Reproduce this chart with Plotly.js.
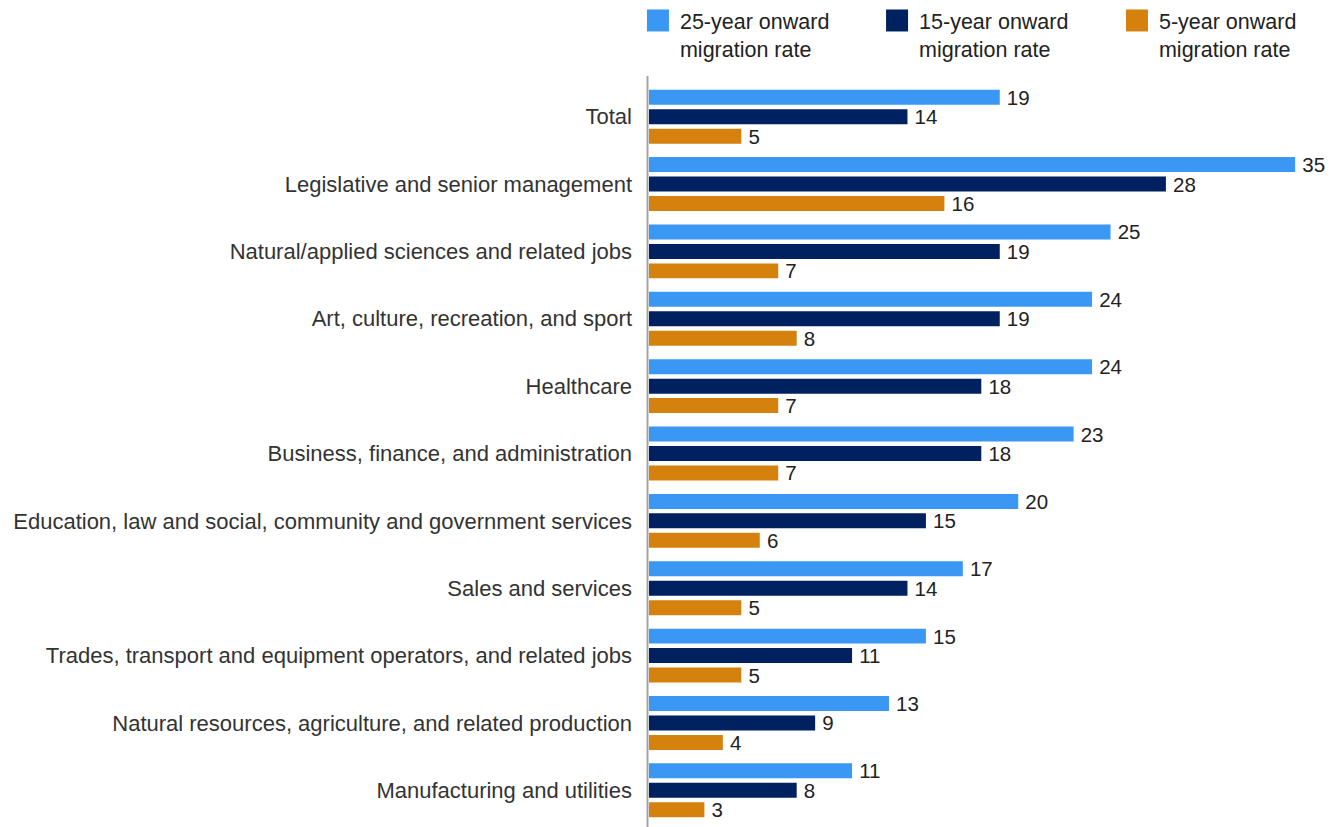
<!DOCTYPE html>
<html><head><meta charset="utf-8">
<script src="https://cdn.plot.ly/plotly-3.0.1.min.js"></script>
<style>html,body{margin:0;padding:0;background:#fff}#chart{width:1338px;height:827px}</style>
</head><body><div id="chart"></div>
<script>
const categories = [
  'Total',
  'Legislative and senior management',
  'Natural/applied sciences and related jobs',
  'Art, culture, recreation, and sport',
  'Healthcare',
  'Business, finance, and administration',
  'Education, law and social, community and government services',
  'Sales and services',
  'Trades, transport and equipment operators, and related jobs',
  'Natural resources, agriculture, and related production',
  'Manufacturing and utilities'
];
const rate25 = [19, 35, 25, 24, 24, 23, 20, 17, 15, 13, 11];
const rate15 = [14, 28, 19, 19, 18, 18, 15, 14, 11, 9, 8];
const rate5  = [5, 16, 7, 8, 7, 7, 6, 5, 5, 4, 3];
const seriesNames = ['25-year onward<br>migration rate', '15-year onward<br>migration rate', '5-year onward<br>migration rate'];
const seriesColors = ['#3a97f4', '#00215f', '#d4810d'];
const seriesValues = [rate25, rate15, rate5];
const legendIds = ['legend', 'legend2', 'legend3'];
const legendX = [0.4753, 0.654, 0.8333];

const FONT = 'Liberation Sans, Arial, sans-serif';

const traces = seriesValues.map((vals, i) => ({
  type: 'bar',
  orientation: 'h',
  name: seriesNames[i],
  legend: legendIds[i],
  showlegend: true,
  y: categories,
  x: vals,
  marker: {color: seriesColors[i]},
  texttemplate: '\u2009%{x}',
  textposition: 'outside',
  constraintext: 'none',
  cliponaxis: false,
  textfont: {family: FONT, size: 20.5, color: '#222'},
  hoverinfo: 'x+y'
}));

const layout = {
  width: 1338,
  height: 827,
  showlegend: true,
  margin: {l: 649, r: 10, t: 83, b: 3, pad: 0, autoexpand: false},
  paper_bgcolor: '#fff',
  plot_bgcolor: '#fff',
  barmode: 'group',
  bargap: 0.1333,
  bargroupgap: 0.23,
  font: {family: FONT, size: 22, color: '#333'},
  xaxis: {
    range: [0, 36.78],
    visible: false,
    showgrid: false,
    zeroline: false,
    fixedrange: true
  },
  yaxis: {
    type: 'category',
    autorange: 'reversed',
    showgrid: false,
    zeroline: false,
    showline: false,
    ticks: '',
    ticklabelstandoff: 16,
    tickfont: {family: FONT, size: 22, color: '#333'},
    fixedrange: true
  },
  shapes: [{
    type: 'line',
    xref: 'paper', yref: 'paper',
    x0: -0.0022, x1: -0.0022,
    y0: -0.005, y1: 1.0094,
    line: {color: '#a3a3a3', width: 2}
  }]
};

legendIds.forEach((id, i) => {
  layout[id] = {
    visible: true,
    orientation: 'h',
    xref: 'container',
    yref: 'container',
    x: legendX[i],
    y: 1,
    xanchor: 'left',
    yanchor: 'top',
    valign: 'top',
    itemwidth: 34,
    bgcolor: 'rgba(0,0,0,0)',
    font: {family: FONT, size: 21.5, color: '#222'}
  };
});

Plotly.newPlot('chart', traces, layout, {displayModeBar: false}).then(gd => {
  gd.querySelectorAll('.legendpoints path').forEach(p => {
    p.setAttribute('d', 'M11,11H-11V-11H11Z');
  });
});
</script>
</body></html>
